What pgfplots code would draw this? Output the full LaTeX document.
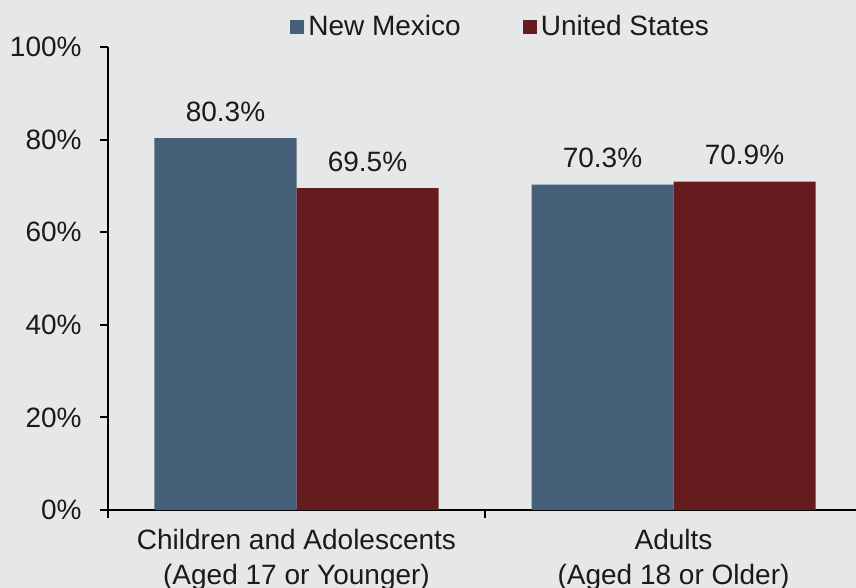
\documentclass[border=0pt]{standalone}
\usepackage{pgfplots}
\pgfplotsset{compat=1.18}
\usepackage{fontspec}
\setmainfont{Liberation Sans}
\definecolor{bg}{RGB}{230,231,232}
\definecolor{nmblue}{RGB}{71,96,121}
\definecolor{usred}{RGB}{102,27,30}
\definecolor{txt}{RGB}{26,26,26}
\begin{document}
\begin{tikzpicture}
\fill[bg] (-54pt,-39pt) rectangle (374pt,255pt);
\begin{axis}[
  at={(0pt,0pt)}, anchor=south west,
  scale only axis,
  width=377pt, height=231.5pt,
  xmin=-0.5, xmax=1.5,
  ymin=0, ymax=100,
  axis x line=bottom, axis y line=left,
  axis line style={-, line width=1pt, black},
  tick align=outside,
  major tick length=4pt,
  tick style={line width=1pt, black},
  ytick={0,20,40,60,80,100},
  yticklabel={\pgfmathprintnumber{\tick}\%},
  yticklabel style={inner sep=0pt, xshift=-9pt, font=\fontsize{14}{17.5}\selectfont, text=txt},
  /pgf/number format/assume math mode=true,
  xtick={-0.5,0.5,1.5},
  xticklabels={},
  extra x ticks={0,1},
  extra x tick labels={Children and Adolescents\\(Aged 17 or Younger), Adults\\(Aged 18 or Older)},
  extra x tick style={major tick length=0pt, xticklabel style={align=center, inner sep=0pt, yshift=-9.5pt, font=\fontsize{14}{17.5}\selectfont, text=txt}},
  ybar=0pt, bar width=71pt,
  nodes near coords={\pgfmathprintnumber[fixed,fixed zerofill,precision=1]{\pgfplotspointmeta}\%},
  every node near coord/.append style={anchor=base, inner sep=0pt, yshift=8.5pt, font=\fontsize{14}{17.5}\selectfont, text=txt},
  legend columns=2,
  legend style={at={(0.522,1.043)}, anchor=center, draw=none, fill=none, font=\fontsize{14}{17.5}\selectfont, text=txt,
    /tikz/every even column/.append style={column sep=29pt}},
  legend image code/.code={\fill[#1] (0pt,-3.5pt) rectangle (7pt,3.5pt);},
  clip=false,
]
\addplot[draw=none, fill=nmblue] coordinates {(0,80.3) (1,70.3)};
\addplot[draw=none, fill=usred] coordinates {(0,69.5) (1,70.9)};
\legend{New Mexico, United States}
\end{axis}
\pgfresetboundingbox
\path[use as bounding box] (-54pt,-39pt) rectangle (374pt,255pt);
\end{tikzpicture}
\end{document}
